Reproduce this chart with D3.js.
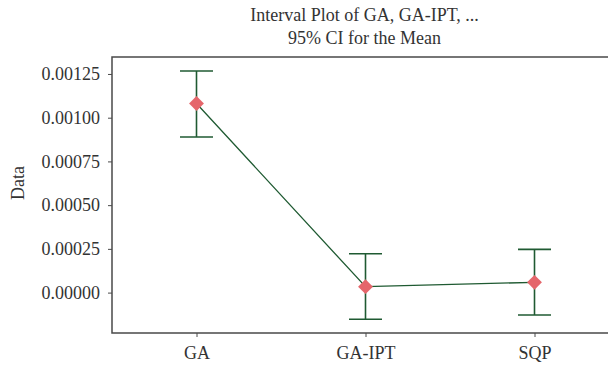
<!DOCTYPE html>
<html>
<head>
<meta charset="utf-8">
<script src="https://cdn.jsdelivr.net/npm/d3@7"></script>
<style>
  html, body { margin: 0; padding: 0; background: #fff; overflow: hidden; }
  svg { display: block; }
  text { font-family: "Liberation Serif", "DejaVu Serif", serif; fill: #333; }
</style>
</head>
<body>
<svg id="chart" width="608" height="368"></svg>
<script>
// Interval plot: mean with 95% confidence interval per method
const categories = ["GA", "GA-IPT", "SQP"];
const means = [0.001081, 0.0000337, 0.0000588];
const ciLower = [0.000890, -0.000152, -0.000128];
const ciUpper = [0.001267, 0.000222, 0.000247];
const yTicks = [0, 0.00025, 0.0005, 0.00075, 0.001, 0.00125];
const titleLines = ["Interval Plot of GA, GA-IPT, ...", "95% CI for the Mean"];
const yLabel = "Data";

const svg = d3.select("#chart");
const W = 608, H = 368;
const margin = { left: 112, top: 57, right: -11, bottom: 35 };
const plotR = W - margin.right, plotB = H - margin.bottom;

const x = d3.scalePoint().domain(categories).range([margin.left, plotR]).padding(0.5);
const y = d3.scaleLinear().domain([-0.000231, 0.001347]).range([plotB, margin.top]);

const fmt = d3.format(".5f");
const frameColor = "#4a4a4a";
const green = "#1f5a32";
const marker = "#e5666b";
const labelSize = "18px";

// frame: top, left and bottom edges (the right edge lies beyond the canvas)
svg.append("path")
  .attr("d", `M${W},${margin.top}H${margin.left}V${plotB}H${W}`)
  .attr("fill", "none").attr("stroke", frameColor).attr("stroke-width", 1.5);

// y axis
const yAxis = svg.append("g")
  .attr("transform", `translate(${margin.left},0)`)
  .call(d3.axisLeft(y).tickValues(yTicks).tickFormat(fmt).tickSize(4).tickPadding(8));
yAxis.select(".domain").remove();
yAxis.selectAll(".tick line").attr("stroke", frameColor);
yAxis.selectAll(".tick text").style("font-size", labelSize).style("fill", "#333")
  .style("font-family", "Liberation Serif, serif");

// x axis
const xAxis = svg.append("g")
  .attr("transform", `translate(0,${plotB})`)
  .call(d3.axisBottom(x).tickSize(4).tickPadding(9));
xAxis.select(".domain").remove();
xAxis.selectAll(".tick line").attr("stroke", frameColor);
xAxis.selectAll(".tick text").style("font-size", labelSize).style("fill", "#333")
  .style("font-family", "Liberation Serif, serif");

// y label
svg.append("text")
  .attr("transform", `translate(24,${(margin.top + plotB) / 2 - 12}) rotate(-90)`)
  .attr("text-anchor", "middle")
  .style("font-size", labelSize)
  .text(yLabel);

// title
svg.selectAll("text.title").data(titleLines).join("text")
  .attr("class", "title")
  .attr("x", (margin.left + plotR) / 2 - 1)
  .attr("y", (d, i) => 21 + i * 22.5)
  .attr("text-anchor", "middle")
  .style("font-size", "18px")
  .text(d => d);

const rows = categories.map((c, i) => ({ c, m: means[i], lo: ciLower[i], hi: ciUpper[i] }));

// connect the means
svg.append("path")
  .datum(rows)
  .attr("fill", "none").attr("stroke", green).attr("stroke-width", 1.3)
  .attr("d", d3.line().x(d => x(d.c)).y(d => y(d.m)));

// confidence intervals
const capHalf = 16.5;
const ci = svg.append("g").attr("stroke", green).attr("stroke-width", 1.6).attr("fill", "none");
rows.forEach(d => {
  const cx = x(d.c);
  ci.append("line").attr("x1", cx).attr("x2", cx).attr("y1", y(d.hi)).attr("y2", y(d.lo));
  ci.append("line").attr("x1", cx - capHalf).attr("x2", cx + capHalf).attr("y1", y(d.hi)).attr("y2", y(d.hi));
  ci.append("line").attr("x1", cx - capHalf).attr("x2", cx + capHalf).attr("y1", y(d.lo)).attr("y2", y(d.lo));
});

// mean markers
svg.append("g").selectAll("path").data(rows).join("path")
  .attr("transform", d => `translate(${x(d.c)},${y(d.m)}) rotate(45)`)
  .attr("d", d3.symbol().type(d3.symbolSquare).size(110))
  .attr("fill", marker);
</script>
</body>
</html>
